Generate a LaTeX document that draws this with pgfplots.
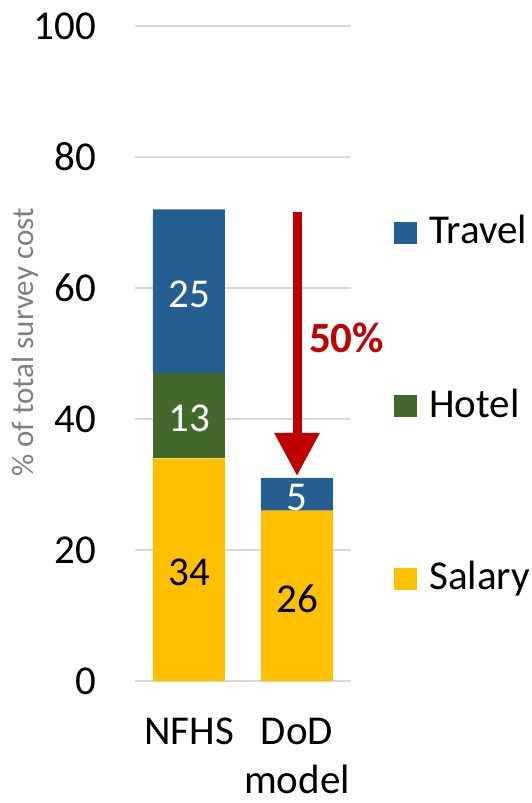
\documentclass[border=0pt]{standalone}
\usepackage{fontspec}
\setmainfont{Carlito}
\usepackage{pgfplots}
\pgfplotsset{compat=1.18}
\usetikzlibrary{arrows.meta}
\definecolor{travel}{HTML}{255E91}
\definecolor{hotel}{HTML}{43682B}
\definecolor{salary}{HTML}{FFC000}
\definecolor{arrowred}{HTML}{C00000}
\definecolor{gridgray}{HTML}{D9D9D9}
\definecolor{labelgray}{HTML}{7F7F7F}
\newcommand{\fsA}{\fontsize{41pt}{49pt}\selectfont}
\newcommand{\fsB}{\fontsize{31pt}{37pt}\selectfont}
\newcommand{\fsC}{\fontsize{43pt}{50pt}\selectfont}
\begin{document}
\begin{tikzpicture}
\begin{axis}[
  at={(0pt,0pt)}, anchor=south west,
  scale only axis, width=216pt, height=655pt,
  xmin=-0.5, xmax=1.5, ymin=0, ymax=100,
  ybar stacked, bar width=72pt,
  xtick={0,1}, xticklabels={NFHS,{DoD\\model}},
  ytick={0,20,...,100},
  ymajorgrids, grid style={gridgray, line width=1.5pt},
  axis line style={draw=none},
  major tick length=0pt,
  /pgf/number format/assume math mode=true,
  tick label style={inner sep=0pt, font=\fsA},
  yticklabel style={anchor=east, xshift=-39pt},
  xticklabel style={anchor=north, yshift=-37pt, align=center},
  ylabel={\% of total survey cost},
  ylabel style={at={(axis description cs:-0.509,0.5168)}, anchor=center, font=\fsB, text=labelgray, inner sep=0pt},
  clip=false,
]
\addplot[fill=salary, draw=none] coordinates {(0,34) (1,26)};
\addplot[fill=hotel, draw=none] coordinates {(0,13) (1,0)};
\addplot[fill=travel, draw=none] coordinates {(0,25) (1,5)};
\end{axis}
\begin{axis}[
  at={(0pt,0pt)}, anchor=south west,
  scale only axis, width=216pt, height=655pt,
  xmin=-0.5, xmax=1.5, ymin=0, ymax=100,
  hide axis, clip=false,
]
\addplot[draw=none, mark=none, nodes near coords, point meta=explicit symbolic,
  every node near coord/.style={anchor=center, text=white, font=\fsA, inner sep=0pt, yshift=-3pt}]
  table[meta=label] {
x y label
0 59.5 25
0 40.5 13
1 28.5 5
};
\addplot[draw=none, mark=none, nodes near coords, point meta=explicit symbolic,
  every node near coord/.style={anchor=center, text=black, font=\fsA, inner sep=0pt, yshift=-3pt}]
  table[meta=label] {
x y label
0 17 34
1 13 26
};
\addplot[draw=arrowred, line width=9pt, -{Triangle[width=43pt, length=43pt]}]
  coordinates {(1,71.6) (1,31.3)};
\node[anchor=base west, inner sep=0pt, text=arrowred, font=\fsC\bfseries] at (axis cs:1.11,50.1) {50\%};
\end{axis}
% legend
\fill[travel] (259pt,437pt) rectangle (282pt,459.3pt);
\node[anchor=base west, inner sep=0pt, font=\fsA] at (294pt,437pt) {Travel};
\fill[hotel] (259pt,264.3pt) rectangle (282pt,286pt);
\node[anchor=base west, inner sep=0pt, font=\fsA] at (294pt,263pt) {Hotel};
\fill[salary] (259pt,91pt) rectangle (282pt,112.7pt);
\node[anchor=base west, inner sep=0pt, font=\fsA] at (294pt,91pt) {Salary};
\pgfresetboundingbox
\path[use as bounding box] (-135pt,-122pt) rectangle (396pt,681pt);
\end{tikzpicture}
\end{document}
